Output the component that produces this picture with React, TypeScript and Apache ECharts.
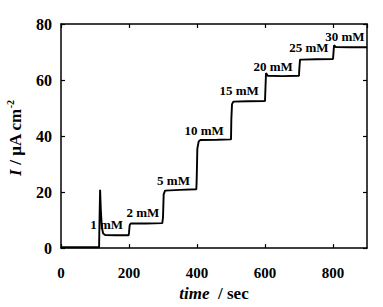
import React, { useEffect, useRef } from "react";
import * as echarts from "echarts";

// Amperometric trace (time in sec, current in µA cm^-2)
const timeSec = [
  0, 60, 112, 113, 115, 117, 120, 124, 130, 160, 199,
  200, 202, 205, 250, 298,
  300, 302, 306, 350, 398,
  399, 401, 405, 410, 460, 500,
  501, 503, 507, 550, 600,
  601, 603, 608, 650, 700,
  701, 703, 708, 750, 800,
  801, 803, 808, 850, 900,
];
const currentVals = [
  0.3, 0.3, 0.3, 8, 20.8, 14, 7.5, 5.2, 4.7, 4.6, 4.6,
  5.5, 8.2, 8.8, 8.8, 8.9,
  11, 19.2, 20.5, 20.8, 21.0,
  24, 35.5, 38.1, 38.6, 38.7, 38.8,
  46, 51.4, 52.3, 52.4, 52.5,
  56, 62.5, 61.5, 61.4, 61.5,
  64, 67.3, 67.3, 67.4, 67.5,
  69, 72.4, 71.8, 71.7, 71.7,
];

// Concentration labels: centre position in data coordinates
const concNames = ["1 mM", "2 mM", "5 mM", "10 mM", "15 mM", "20 mM", "25 mM", "30 mM"];
const concX = [134, 241, 331, 421, 524, 624, 729, 835];
const concY = [8.4, 12.7, 24.1, 42, 56.2, 64.7, 71.5, 75.5];

const xTicks = { min: 0, max: 900, interval: 200 };
const yTicks = { min: 0, max: 80, interval: 20 };

const FONT = "'Liberation Serif', 'Times New Roman', serif";

export default function App() {
  const ref = useRef<HTMLDivElement>(null);
  useEffect(() => {
    if (!ref.current) return;
    const chart = echarts.init(ref.current, null, { renderer: "svg" });
    const tickStyle = { color: "#000", width: 1.2 };
    const lineStyle = { color: "#000", width: 1.5 };
    const labelStyle = {
      color: "#000",
      fontFamily: FONT,
      fontWeight: "bold" as const,
      fontSize: 15,
    };
    chart.setOption({
      animation: false,
      backgroundColor: "#fff",
      grid: { left: 61, right: 16, top: 24, bottom: 55, containLabel: false },
      xAxis: [
        {
          type: "value",
          position: "bottom",
          ...xTicks,
          axisLine: { show: true, onZero: false, lineStyle },
          axisTick: { show: true, inside: true, length: 4, lineStyle: tickStyle },
          axisLabel: { ...labelStyle, margin: 17, showMaxLabel: false },
          splitLine: { show: false },
          name: "{it|time}{n|  / sec}",
          nameLocation: "middle",
          nameGap: 35,
          nameTextStyle: {
            rich: {
              it: { fontFamily: FONT, fontWeight: "bold", fontStyle: "italic", fontSize: 17, color: "#000" },
              n: { fontFamily: FONT, fontWeight: "bold", fontSize: 17, color: "#000" },
            },
          },
        },
        {
          type: "value",
          position: "top",
          ...xTicks,
          axisLine: { show: true, onZero: false, lineStyle },
          axisTick: { show: true, inside: true, length: 4, lineStyle: tickStyle },
          axisLabel: { show: false },
          splitLine: { show: false },
        },
      ],
      yAxis: [
        {
          type: "value",
          position: "left",
          ...yTicks,
          axisLine: { show: true, onZero: false, lineStyle },
          axisTick: { show: true, inside: true, length: 4, lineStyle: tickStyle },
          axisLabel: { ...labelStyle, fontSize: 16, margin: 9 },
          splitLine: { show: false },
        },
        {
          type: "value",
          position: "right",
          ...yTicks,
          axisLine: { show: true, onZero: false, lineStyle },
          axisTick: { show: true, inside: true, length: 4, lineStyle: tickStyle },
          axisLabel: { show: false },
          splitLine: { show: false },
        },
      ],
      graphic: [
        {
          type: "text",
          x: 15,
          y: 138,
          rotation: Math.PI / 2,
          style: {
            text: "{it|I}{n| / μA cm}{sup|-2}",
            align: "center",
            verticalAlign: "middle",
            rich: {
              it: { fontFamily: FONT, fontWeight: "bold", fontStyle: "italic", fontSize: 17, fill: "#000", lineHeight: 20 },
              n: { fontFamily: FONT, fontWeight: "bold", fontSize: 17, fill: "#000", lineHeight: 20 },
              sup: { fontFamily: FONT, fontWeight: "bold", fontSize: 10, fill: "#000", lineHeight: 20, verticalAlign: "top" },
            },
          },
        },
      ],
      series: [
        {
          type: "line",
          xAxisIndex: 0,
          yAxisIndex: 0,
          data: timeSec.map((t, i) => [t, currentVals[i]]),
          showSymbol: false,
          symbol: "none",
          lineStyle: { color: "#000", width: 1.9 },
          z: 3,
        },
        {
          type: "scatter",
          xAxisIndex: 0,
          yAxisIndex: 0,
          symbolSize: 0,
          data: concX.map((x, i) => [x, concY[i]]),
          itemStyle: { color: "#000", opacity: 1 },
          label: {
            show: true,
            position: "inside",
            formatter: (p: any) => concNames[p.dataIndex],
            color: "#000",
            textBorderWidth: 0,
            fontFamily: FONT,
            fontWeight: "bold",
            fontSize: 13,
          },
          z: 4,
        },
      ],
    });
    return () => chart.dispose();
  }, []);
  return (
    <div
      ref={ref}
      style={{ position: "fixed", left: 0, top: 0, width: 383, height: 307 }}
    />
  );
}
